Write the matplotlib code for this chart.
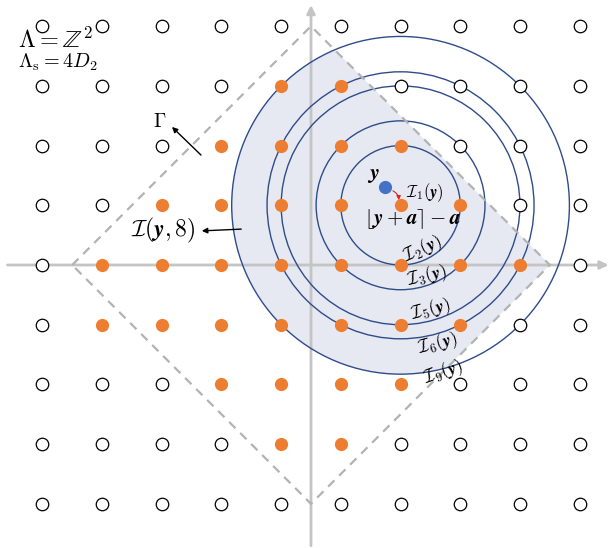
import numpy as np
import matplotlib
matplotlib.use("Agg")
import matplotlib.pyplot as plt
from matplotlib.patches import Circle, Polygon

plt.rcParams['mathtext.fontset'] = 'cm'
plt.rcParams['font.family'] = 'DejaVu Serif'

# lattice Z^2 (shown shifted by half a step in x)
lat_x = np.arange(-4.5, 4.6, 1.0)
lat_y = np.arange(-4, 5, 1)

# points of I(y, 8), row by row
sel_pts = [
    (-0.5, 3), (0.5, 3),
    (-1.5, 2), (-0.5, 2), (0.5, 2), (1.5, 2),
    (-2.5, 1), (-1.5, 1), (-0.5, 1), (0.5, 1), (1.5, 1), (2.5, 1),
    (-3.5, 0), (-2.5, 0), (-1.5, 0), (-0.5, 0), (0.5, 0), (1.5, 0), (2.5, 0), (3.5, 0),
    (-3.5, -1), (-2.5, -1), (-1.5, -1), (-0.5, -1), (0.5, -1), (1.5, -1), (2.5, -1),
    (-1.5, -2), (-0.5, -2), (0.5, -2), (1.5, -2),
    (-0.5, -3), (0.5, -3),
]

y_pt = (1.24, 1.30)          # the point y
q_pt = (1.5, 1.0)            # floor(y+a)-a, centre of the circles
radii = [1.0, np.sqrt(2), 2.0, np.sqrt(5), np.sqrt(8)]
ring_labels = [r'$\mathcal{I}_2(\boldsymbol{y})$', r'$\mathcal{I}_3(\boldsymbol{y})$',
               r'$\mathcal{I}_5(\boldsymbol{y})$', r'$\mathcal{I}_6(\boldsymbol{y})$',
               r'$\mathcal{I}_9(\boldsymbol{y})$']
gamma_half = 4.0             # Voronoi region of 4D_2: |x|+|y| <= 4

s = 59.7  # px per unit
fig = plt.figure(figsize=(6.13, 5.48), dpi=100)
ax = fig.add_axes([0, 0, 1, 1])
ax.set_xlim(-311 / s, 302 / s)
ax.set_ylim(-283 / s, 265 / s)
ax.axis('off')

# axes with arrows
ax.annotate('', xy=(5.03, 0), xytext=(-5.13, 0),
            arrowprops=dict(arrowstyle='-|>', color='#c4c4c4', lw=2, mutation_scale=12), zorder=1)
ax.annotate('', xy=(0, 4.40), xytext=(0, -4.75),
            arrowprops=dict(arrowstyle='-|>', color='#c4c4c4', lw=2, mutation_scale=12), zorder=1)

# shaded region = circle of radius sqrt(8) cut by Gamma
diamond = Polygon([(-gamma_half, 0), (0, gamma_half), (gamma_half, 0), (0, -gamma_half)],
                  closed=True, fill=False, ls=(0, (4, 3)), ec='#b3b3b3', lw=1.6, zorder=3)
ax.add_patch(diamond)
shade = Circle(q_pt, radii[-1], fc='#e6e9f2', ec='none', zorder=0.5)
ax.add_patch(shade)
shade.set_clip_path(diamond)

for r in radii:
    ax.add_patch(Circle(q_pt, r, fill=False, ec='#2f4c8a', lw=1.0, zorder=2))

# lattice points
gx, gy = np.meshgrid(lat_x, lat_y)
sel = set(sel_pts)
open_pts = [(a, b) for a, b in zip(gx.ravel(), gy.ravel()) if (a, b) not in sel]
ox, oy = zip(*open_pts)
ax.plot(ox, oy, 'o', ms=9, mfc='white', mec='black', mew=0.9, ls='none', zorder=4)
sx, sy = zip(*sel_pts)
ax.plot(sx, sy, 'o', ms=9.5, color='#ed7d31', mec='none', ls='none', zorder=4)
ax.plot(*y_pt, 'o', ms=9.5, color='#4472c4', mec='none', zorder=5)

ax.annotate('', xy=(1.47, 1.04), xytext=(1.33, 1.26),
            arrowprops=dict(arrowstyle='-|>', color='#e02020', lw=0.8,
                            connectionstyle='arc3,rad=-0.4', mutation_scale=6), zorder=6)

# texts
ax.text(-293 / s, (265 - 40) / s, r'$\Lambda = \mathbb{Z}^2$', fontsize=17.5, va='center', ha='left')
ax.text(-293 / s, (265 - 62) / s, r'$\Lambda_{\mathrm{s}} = 4D_2$', fontsize=14.5, va='center', ha='left')
ax.text((160 - 311) / s, (265 - 122) / s, r'$\Gamma$', fontsize=14, ha='center', va='center')
ax.annotate('', xy=((170 - 311) / s, (265 - 125) / s), xytext=((203 - 311) / s, (265 - 157) / s),
            arrowprops=dict(arrowstyle='-|>', color='black', lw=1, mutation_scale=8))
ax.text((163 - 311) / s, (265 - 230) / s, r'$\mathcal{I}(\boldsymbol{y},8)$', fontsize=17,
        ha='center', va='center')
ax.annotate('', xy=((199 - 311) / s, (265 - 231) / s), xytext=((244 - 311) / s, (265 - 229) / s),
            arrowprops=dict(arrowstyle='-|>', color='black', lw=1, mutation_scale=8))

ax.text((373 - 311) / s, (265 - 174) / s, r'$\boldsymbol{y}$', fontsize=16, ha='center', va='center', zorder=7)
ax.text((425 - 311) / s, (265 - 193) / s, r'$\mathcal{I}_1(\boldsymbol{y})$', fontsize=12,
        ha='center', va='center', zorder=7)
ax.text((412 - 311) / s, (265 - 219) / s, r'$\lfloor\boldsymbol{y}+\boldsymbol{a}\rceil-\boldsymbol{a}$',
        fontsize=15, ha='center', va='center', zorder=7)

lab_pos = [(423, 249, 25), (427, 276, 14), (431, 310, 15), (438, 344, 15), (443, 372, 20)]
for (px, py, rot), lab in zip(lab_pos, ring_labels):
    ax.text((px - 311) / s, (265 - py) / s, lab, fontsize=13, rotation=rot,
            ha='center', va='center', rotation_mode='anchor', zorder=7)

fig.savefig('out.png', dpi=100)
